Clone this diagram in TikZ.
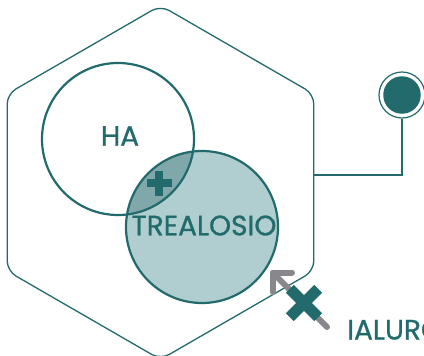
\documentclass[tikz,border=0pt]{standalone}
\usepackage{fontspec}
\setmainfont{Poppins}
\newfontfamily\lblfont{Poppins}[FakeBold=0.9]
\definecolor{tealdk}{HTML}{226A6B}
\definecolor{teallt}{HTML}{B0CDCF}
\definecolor{tealmd}{HTML}{80A8AA}
\definecolor{greyarr}{HTML}{88878C}
\begin{document}
\begin{tikzpicture}[x=1pt,y=-1pt,
  thinline/.style={draw=tealdk,line width=1.3pt},
  venn/.style={draw=tealdk,line width=2.2pt},
  lbl/.style={text=tealdk,font=\lblfont\fontsize{28}{28}\selectfont,inner sep=0pt,anchor=base},
  bar/.style={fill=tealdk,draw=none}]
\clip (0,0) rectangle (424,356);
% hexagon
\coordinate (h1) at (160.5,5.5);
\coordinate (h2) at (313.8,94);
\coordinate (h3) at (313.8,271);
\coordinate (h4) at (160.5,359.5);
\coordinate (h5) at (7.2,271);
\coordinate (h6) at (7.2,94);
\draw[thinline,rounded corners=10pt] (h1) -- (h2) -- (h3) -- (h4) -- (h5) -- (h6) -- cycle;
% circles
\coordinate (cHA) at (118,139);
\coordinate (cTR) at (202,227);
\fill[teallt] (cTR) circle[radius=76];
\begin{scope}
  \clip (cHA) circle[radius=76];
  \fill[tealmd] (cTR) circle[radius=76];
\end{scope}
\draw[venn] (cHA) circle[radius=76];
\draw[venn] (cTR) circle[radius=76];
% plus
\fill[bar] (159,183) +(-12.5,-4.2) rectangle +(12.5,4.2);
\fill[bar] (159,183) +(-4.2,-12.5) rectangle +(4.2,12.5);
% labels
\node[lbl] (ha) at (120,145.7) {HA};
\node[lbl] (tre) at (204,235.3) {TREALOSIO};
\node[lbl,anchor=base west] (ial) at (347,339.5) {IALURONICO};
% right dot
\node[circle,draw=tealdk,line width=1.2pt,minimum size=46pt,inner sep=0pt] (ring) at (402,95) {};
\node[circle,fill=tealdk,minimum size=37.5pt,inner sep=0pt] (dot) at (402,95) {};
\coordinate (hexR) at (313.8,175);
\draw[thinline] (ring.south) |- (hexR);
% grey arrow
\coordinate (aS) at (327,327);
\coordinate (aT) at (273,273);
\draw[greyarr,line width=6pt,line cap=round] (aS) -- (aT);
\draw[greyarr,line width=6pt,line cap=round,line join=round] (292,272.5) -- (272.5,272.5) -- (272.5,292);
% X mark
\begin{scope}[shift={(304,303)},rotate=45]
  \fill[bar] (-20,-5.5) rectangle (20,5.5);
  \fill[bar] (-5.5,-20) rectangle (5.5,20);
\end{scope}
\end{tikzpicture}
\end{document}
